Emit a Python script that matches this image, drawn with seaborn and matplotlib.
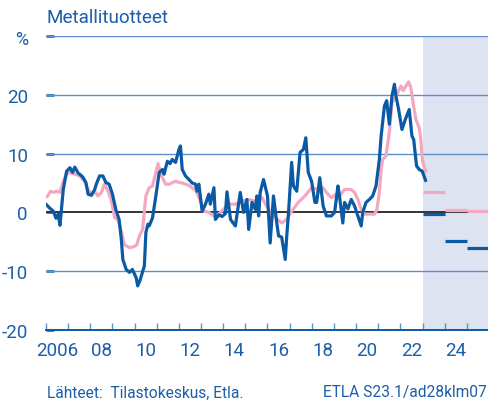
import matplotlib
matplotlib.use("Agg")
import matplotlib.pyplot as plt
import seaborn as sns
import pandas as pd
import numpy as np

# ---------------- data ----------------
blue_t = [2006.0, 2006.15, 2006.33, 2006.45, 2006.55, 2006.63, 2006.78, 2006.93, 2007.08, 2007.2,
          2007.3, 2007.45, 2007.58, 2007.66, 2007.8, 2007.9, 2008.05, 2008.2, 2008.27, 2008.42,
          2008.57, 2008.7, 2008.85, 2009.0, 2009.15, 2009.3, 2009.4, 2009.47, 2009.62, 2009.77,
          2009.9, 2010.07, 2010.14, 2010.25, 2010.44, 2010.51, 2010.6, 2010.66, 2010.81, 2010.96,
          2011.11, 2011.26, 2011.33, 2011.48, 2011.6, 2011.7, 2011.85, 2012.0, 2012.07, 2012.15,
          2012.3, 2012.45, 2012.6, 2012.75, 2012.82, 2012.9, 2013.05, 2013.2, 2013.35, 2013.42,
          2013.58, 2013.65, 2013.8, 2013.95, 2014.1, 2014.17, 2014.33, 2014.55, 2014.77, 2014.92,
          2015.07, 2015.15, 2015.3, 2015.45, 2015.52, 2015.6, 2015.67, 2015.82, 2016.0, 2016.12,
          2016.27, 2016.42, 2016.5, 2016.64, 2016.8, 2016.87, 2016.95, 2017.09, 2017.17, 2017.32,
          2017.47, 2017.62, 2017.73, 2017.84, 2017.99, 2018.14, 2018.22, 2018.36, 2018.51, 2018.66,
          2018.88, 2019.03, 2019.18, 2019.25, 2019.4, 2019.48, 2019.63, 2019.78, 2019.93, 2020.08,
          2020.23, 2020.3, 2020.45, 2020.6, 2020.75, 2020.9, 2021.05, 2021.13, 2021.28, 2021.38,
          2021.5, 2021.62, 2021.73, 2021.8, 2021.92, 2022.07, 2022.22, 2022.4, 2022.52, 2022.6,
          2022.73, 2022.85, 2022.99, 2023.14]
blue_v = [1.4, 0.8, 0.2, -1.0, -0.3, -2.2, 3.9, 7.0, 7.6, 6.8,
          7.7, 6.7, 6.3, 6.0, 5.1, 3.1, 2.9, 3.9, 4.8, 6.2,
          6.2, 5.1, 4.8, 3.1, 0.5, -1.2, -4.6, -8.0, -9.7, -10.2,
          -9.7, -11.1, -12.5, -11.5, -9.1, -3.4, -2.0, -2.3, -0.9, 2.8,
          6.8, 7.3, 6.5, 8.7, 8.3, 9.0, 8.5, 10.7, 11.3, 7.3,
          6.2, 5.6, 5.0, 4.8, 3.6, 4.8, 0.2, 1.4, 3.1, 1.4,
          4.2, -1.2, -0.4, -0.7, -0.2, 3.5, -1.2, -2.3, 3.4, 0.0,
          2.2, -2.9, 1.7, 0.5, 2.8, -0.6, 3.4, 5.6, 2.8, -5.2,
          2.8, -1.8, -4.0, -4.2, -8.0, -4.0, 0.0, 8.5, 4.5, 3.6,
          10.2, 10.7, 12.7, 6.8, 5.3, 1.7, 1.7, 5.9, 1.1, -0.6,
          -0.6, 0.0, 4.5, 2.8, -1.8, 1.7, 0.6, 2.2, 1.1, -0.6,
          -2.3, 0.0, 1.7, 2.2, 2.8, 4.5, 9.0, 13.0, 18.1, 19.0,
          15.0, 19.8, 21.8, 19.8, 17.5, 14.1, 15.8, 17.5, 13.0, 12.4,
          7.9, 7.3, 7.0, 5.4]

pink_t = [2006.0, 2006.08, 2006.2, 2006.33, 2006.5, 2006.63, 2006.78, 2006.93, 2007.08, 2007.3,
          2007.52, 2007.74, 2007.9, 2008.05, 2008.2, 2008.34, 2008.5, 2008.64, 2008.8, 2008.94,
          2009.1, 2009.24, 2009.4, 2009.54, 2009.77, 2009.99, 2010.1, 2010.22, 2010.36, 2010.51,
          2010.66, 2010.81, 2010.96, 2011.06, 2011.18, 2011.4, 2011.56, 2011.85, 2012.0, 2012.15,
          2012.45, 2012.75, 2012.97, 2013.13, 2013.35, 2013.65, 2013.95, 2014.25, 2014.55, 2014.85,
          2015.15, 2015.45, 2015.75, 2016.05, 2016.35, 2016.64, 2016.87, 2017.09, 2017.39, 2017.69,
          2017.99, 2018.2, 2018.36, 2018.5, 2018.66, 2018.88, 2019.1, 2019.25, 2019.48, 2019.78,
          2019.93, 2020.08, 2020.23, 2020.38, 2020.6, 2020.83, 2020.94, 2021.05, 2021.13, 2021.2,
          2021.35, 2021.5, 2021.62, 2021.77, 2021.92, 2022.03, 2022.13, 2022.25, 2022.37, 2022.47,
          2022.57, 2022.7, 2022.85, 2022.92, 2022.99, 2023.06, 2023.15]
pink_v = [2.6, 2.8, 3.6, 3.4, 3.6, 3.4, 5.3, 6.5, 6.8, 6.5,
          6.2, 5.3, 3.9, 3.1, 3.6, 2.8, 3.4, 4.8, 3.6, 2.2,
          -0.9, -1.2, -3.2, -5.5, -6.0, -5.8, -5.5, -4.0, -2.9, 2.8,
          4.2, 4.5, 6.8, 8.3, 6.5, 4.8, 4.8, 5.3, 5.1, 5.0,
          4.6, 3.8, 2.0, 0.2, 0.0, -0.8, 0.3, 1.4, 1.4, 1.9,
          2.2, 1.9, 2.5, 0.5, -0.9, -1.8, -1.2, 0.2, 1.7, 2.8,
          4.2, 4.0, 3.4, 4.2, 3.4, 2.5, 3.1, 2.8, 3.9, 3.9,
          3.4, 2.2, 0.5, -0.3, -0.3, -0.3, 0.5, 3.4, 7.3, 9.0,
          9.6, 13.6, 18.7, 19.5, 20.7, 21.5, 20.7, 21.5, 22.2, 21.2,
          18.7, 15.8, 14.4, 12.4, 9.0, 7.9, 7.0]

fc_start = [2023.0, 2024.0, 2025.0]
fc_end = [2024.0, 2025.0, 2026.0]
blue_fc = [-0.2, -4.9, -6.0]
pink_fc = [3.4, 0.35, 0.2]

year_ticks = list(range(2006, 2027))
label_years = [2006.5, 2008.5, 2010.5, 2012.5, 2014.5, 2016.5, 2018.5, 2020.5, 2022.5, 2024.5]
label_text = ["2006", "08", "10", "12", "14", "16", "18", "20", "22", "24"]
y_ticks = [-20, -10, 0, 10, 20, 30]
y_labels = ["-20", "-10", "0", "10", "20", ""]

# ---------------- style ----------------
BLUE = "#0b5aa6"
PINK = "#f4a7c0"
GRID = "#5e8fcb"
TXT = "#1c5ea9"
SHADE = "#dde3f1"

sns.set_style("white")
plt.rcParams["font.family"] = ["Roboto", "DejaVu Sans"]

fig = plt.figure(figsize=(4.89, 4.02), dpi=100)
ax = fig.add_axes([46 / 489, 1 - 331 / 402, 1 - 46 / 489, (331 - 37) / 402])

ax.axvspan(fc_start[0], 2027, color=SHADE, lw=0, zorder=0)
for yv in [10, 20, 30, -10]:
    ax.axhline(yv, color=GRID, lw=1.0, zorder=1)
ax.axhline(0, color="#333333", lw=1.4, zorder=2)

df_pink = pd.DataFrame({"t": pink_t, "v": pink_v})
df_blue = pd.DataFrame({"t": blue_t, "v": blue_v})
sns.lineplot(data=df_pink, x="t", y="v", ax=ax, color=PINK, lw=2.3, zorder=3, sort=False)
sns.lineplot(data=df_blue, x="t", y="v", ax=ax, color=BLUE, lw=2.3, zorder=4, sort=False)

ax.hlines(pink_fc, fc_start, fc_end, color=PINK, lw=2.3, zorder=3)
ax.hlines(blue_fc, fc_start, fc_end, color=BLUE, lw=2.3, zorder=4)

ax.set_xlim(2006, 2025.87)
ax.set_ylim(-20, 30)
ax.set_xlabel("")
ax.set_ylabel("")

for s in ["top", "right", "left"]:
    ax.spines[s].set_visible(False)
ax.spines["bottom"].set_color(BLUE)
ax.spines["bottom"].set_linewidth(1.4)

ax.set_xticks(year_ticks)
ax.set_xticklabels([])
ax.set_xticks(label_years, minor=True)
ax.set_xticklabels(label_text, minor=True)
ax.tick_params(axis="x", which="major", direction="in", length=5, width=1, color=GRID, bottom=True)
ax.tick_params(axis="x", which="minor", length=0, pad=8, labelsize=13.5, labelcolor=TXT)

ax.set_yticks(y_ticks)
ax.set_yticklabels(y_labels)
ax.tick_params(axis="y", direction="in", length=6, width=1.8, color=BLUE, left=True,
               pad=13, labelsize=13.5, labelcolor=TXT)

fig.text(47 / 489, 1 - 18 / 402, "Metallituotteet", ha="left", va="center",
         fontsize=13.6, color=TXT)
fig.text(22 / 489, 1 - 40 / 402, "%", ha="center", va="center", fontsize=13, color=TXT)
fig.text(47 / 489, 1 - 393 / 402, "Lähteet:  Tilastokeskus, Etla.", ha="left", va="center",
         fontsize=11.2, color=TXT)
fig.text(487 / 489, 1 - 393 / 402, "ETLA S23.1/ad28klm07", ha="right", va="center",
         fontsize=11.2, color=TXT)

fig.savefig("out.png", dpi=100)
